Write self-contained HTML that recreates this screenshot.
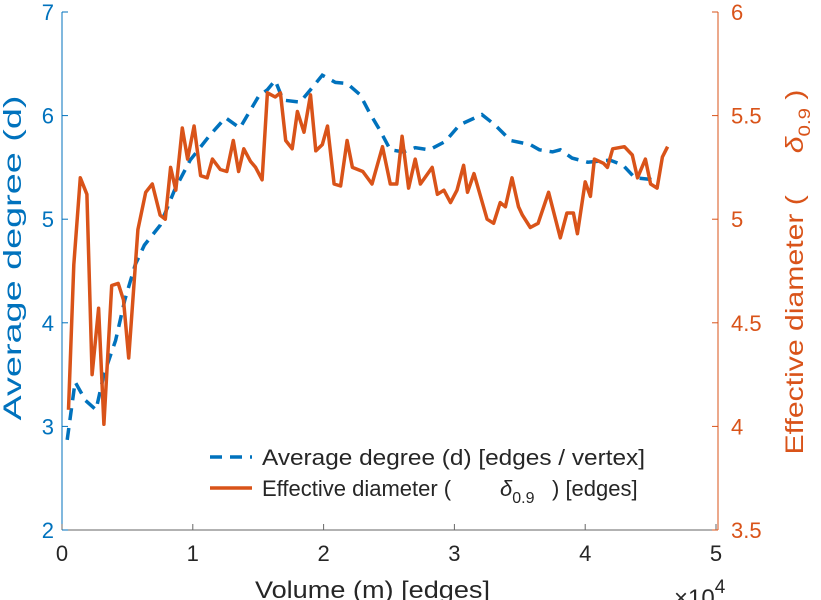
<!DOCTYPE html>
<html><head><meta charset="utf-8"><style>
html,body{margin:0;padding:0;background:#fff;}
svg{display:block;font-family:"Liberation Sans",sans-serif;}
</style></head><body>
<svg id="chart" width="821" height="600" viewBox="0 0 821 600" xmlns="http://www.w3.org/2000/svg"></svg>
<script>
const xTicks=[0,1,2,3,4,5];
const leftTicks=[2,3,4,5,6,7];
const rightTicks=[3.5,4,4.5,5,5.5,6];
const rightTickLabels=["3.5","4","4.5","5","5.5","6"];
const degVolume=[0.04,0.10,0.18,0.26,0.32,0.41,0.48,0.56,0.63,0.75,0.86,0.98,1.13,1.25,1.36,1.50,1.57,1.63,1.69,1.82,1.90,1.99,2.09,2.18,2.28,2.35,2.43,2.51,2.61,2.70,2.81,2.93,3.04,3.21,3.31,3.43,3.58,3.65,3.75,3.81,3.90,4.02,4.19,4.29,4.38,4.53];
const degValues=[2.87,3.43,3.25,3.16,3.50,3.83,4.22,4.56,4.75,4.94,5.28,5.57,5.81,5.98,5.88,6.18,6.25,6.34,6.15,6.13,6.25,6.39,6.32,6.31,6.20,6.03,5.86,5.67,5.65,5.69,5.67,5.75,5.91,6.01,5.91,5.76,5.72,5.67,5.65,5.67,5.59,5.55,5.57,5.52,5.40,5.38];
const diamVolume=[0.05,0.09,0.14,0.19,0.23,0.28,0.32,0.38,0.43,0.47,0.51,0.58,0.64,0.69,0.75,0.79,0.83,0.87,0.92,0.96,1.01,1.06,1.11,1.15,1.21,1.26,1.31,1.35,1.39,1.44,1.48,1.53,1.57,1.63,1.67,1.71,1.76,1.80,1.85,1.90,1.94,1.99,2.03,2.08,2.13,2.18,2.22,2.30,2.37,2.45,2.51,2.56,2.60,2.65,2.70,2.74,2.83,2.87,2.92,2.97,3.02,3.07,3.10,3.15,3.25,3.30,3.35,3.39,3.44,3.49,3.52,3.58,3.64,3.72,3.81,3.86,3.91,3.94,4.00,4.04,4.07,4.14,4.17,4.21,4.30,4.36,4.40,4.46,4.50,4.55,4.59,4.63];
const diamValues=[4.08,4.78,5.20,5.12,4.25,4.57,4.01,4.68,4.69,4.61,4.33,4.95,5.13,5.17,5.02,5.00,5.25,5.14,5.44,5.29,5.45,5.21,5.20,5.29,5.24,5.23,5.38,5.23,5.34,5.28,5.25,5.19,5.61,5.59,5.61,5.38,5.34,5.52,5.42,5.60,5.33,5.36,5.45,5.17,5.16,5.38,5.25,5.23,5.17,5.35,5.17,5.17,5.40,5.15,5.29,5.17,5.25,5.12,5.14,5.08,5.14,5.26,5.13,5.22,5.00,4.98,5.08,5.06,5.20,5.06,5.02,4.96,4.98,5.13,4.91,5.03,5.03,4.93,5.18,5.11,5.29,5.27,5.25,5.34,5.35,5.31,5.20,5.29,5.17,5.15,5.30,5.35];

const L=62,R=716,T=12,B=530;
const BLUE="#0072BD",ORANGE="#D95319";
const sx=v=>L+(v-0)/(5-0)*(R-L);
const syL=v=>B-(v-2)/(7-2)*(B-T);
const syR=v=>B-(v-3.5)/(6-3.5)*(B-T);
const svg=document.getElementById('chart');
const NS="http://www.w3.org/2000/svg";
function mk(tag,attrs,parent){const e=document.createElementNS(NS,tag);for(const k in attrs)e.setAttribute(k,attrs[k]);(parent||svg).appendChild(e);return e;}

let e;
e=mk('line',{x1:L,y1:B,x2:R+2,y2:B,stroke:"#666","stroke-width":1});


e=mk('line',{x1:L,y1:T,x2:L,y2:B,stroke:BLUE,"stroke-width":1});


e=mk('line',{x1:R+2,y1:T,x2:R+2,y2:B,stroke:ORANGE,"stroke-width":1});



xTicks.forEach(t=>{
  const x=sx(t);
  let tk=mk('line',{x1:x,y1:B,x2:x,y2:B-6,stroke:"#666"});
  
  
  let tx=mk('text',{x:x,y:B+31,"text-anchor":"middle","font-size":22,fill:"#262626"});
  tx.textContent=t;
  
  
});
leftTicks.forEach(t=>{
  const y=syL(t);
  let tk=mk('line',{x1:L,y1:y,x2:L+6,y2:y,stroke:BLUE});
  
  
  let tx=mk('text',{x:L-8,y:y+8,"text-anchor":"end","font-size":22,fill:BLUE});
  tx.textContent=t;
  
  
});
rightTicks.forEach((t,i)=>{
  const y=syR(t);
  let tk=mk('line',{x1:R+2,y1:y,x2:R-4,y2:y,stroke:ORANGE});
  
  
  let tx=mk('text',{x:R+15,y:y+8,"text-anchor":"start","font-size":22,fill:ORANGE});
  tx.textContent=rightTickLabels[i];
  
  
});

let d1=degVolume.map((v,i)=>(i?'L':'M')+sx(v).toFixed(1)+','+syL(degValues[i]).toFixed(1)).join(' ');
e=mk('path',{d:d1,fill:"none",stroke:BLUE,"stroke-width":3.5,"stroke-dasharray":"12,8"});


let d2=diamVolume.map((v,i)=>(i?'L':'M')+sx(v).toFixed(1)+','+syR(diamValues[i]).toFixed(1)).join(' ');
e=mk('path',{d:d2,fill:"none",stroke:ORANGE,"stroke-width":3.5,"stroke-linejoin":"round"});



e=mk('text',{x:0,y:0,transform:"translate(21,258) rotate(-90)","text-anchor":"middle","font-size":25,fill:BLUE,textLength:325,lengthAdjust:"spacingAndGlyphs"});
e.textContent="Average degree (d)";


e=mk('text',{x:0,y:0,transform:"translate(803,272) rotate(-90)","text-anchor":"middle","font-size":25,fill:ORANGE,textLength:365,lengthAdjust:"spacingAndGlyphs"});
e.innerHTML='Effective diameter (&#160;&#160;&#160;&#160;&#160;<tspan font-style="italic">δ</tspan><tspan font-size="17" dy="7">0.9</tspan><tspan dy="-7"> )</tspan>';


e=mk('text',{x:255,y:598,"font-size":24,fill:"#262626",textLength:235,lengthAdjust:"spacingAndGlyphs"});
e.textContent="Volume (m) [edges]";


e=mk('text',{x:674,y:606,"font-size":24,fill:"#262626"});
e.innerHTML='×10<tspan font-size="19" dy="-13">4</tspan>';



const lg=mk('g',{});


e=mk('line',{x1:210,y1:457,x2:252,y2:457,stroke:BLUE,"stroke-width":3.5,"stroke-dasharray":"12,8"},lg);


e=mk('text',{x:262,y:465,"font-size":22,fill:"#262626",textLength:383,lengthAdjust:"spacingAndGlyphs"},lg);
e.textContent="Average degree (d) [edges / vertex]";


e=mk('line',{x1:210,y1:488,x2:252,y2:488,stroke:ORANGE,"stroke-width":3.5},lg);


e=mk('text',{x:262,y:496,"font-size":22,fill:"#262626"},lg);
e.innerHTML='Effective diameter (<tspan x="500" font-style="italic">δ</tspan><tspan font-size="16" dy="7">0.9</tspan><tspan dy="-7" x="552">) [edges]</tspan>';


</script>
</body></html>
